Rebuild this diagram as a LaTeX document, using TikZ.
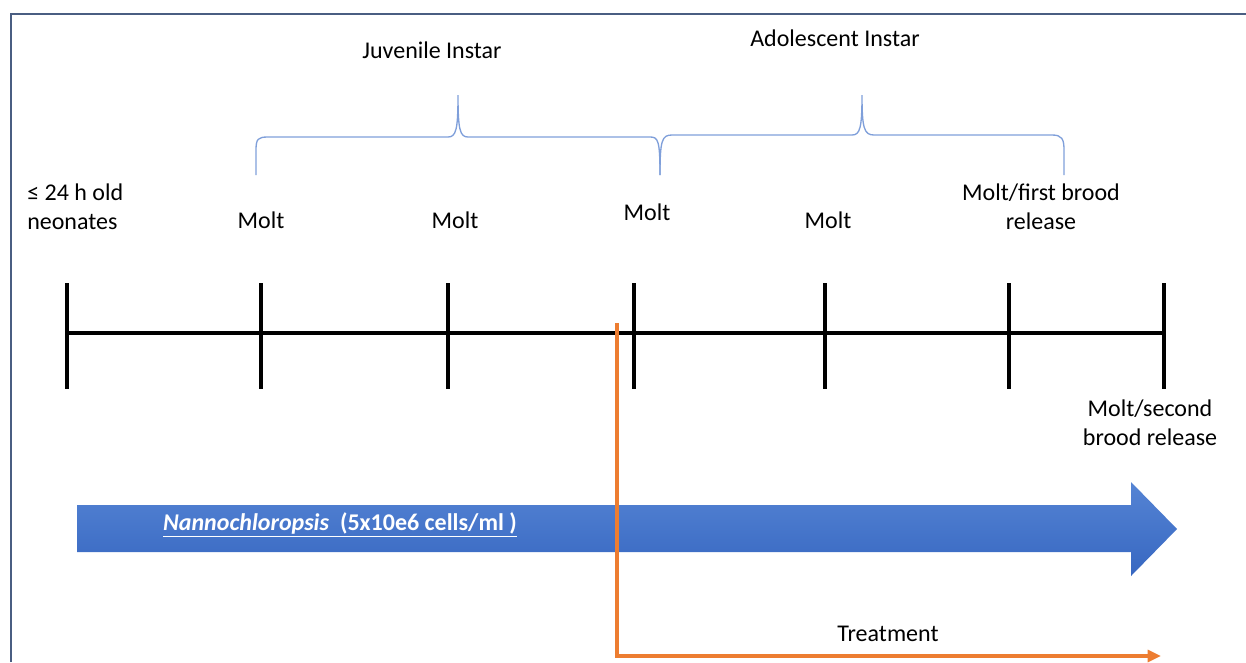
\documentclass[tikz,border=0pt]{standalone}
\usepackage{fontspec}
\setmainfont{Carlito}
\usetikzlibrary{arrows.meta}
\definecolor{tlFrame}{HTML}{4A5E82}
\definecolor{tlBrace}{HTML}{7F9FDA}
\definecolor{tlArrowTop}{HTML}{5584D4}
\definecolor{tlArrowBot}{HTML}{3767C1}
\definecolor{tlOrange}{HTML}{ED7D31}
\tikzset{
  tl frame/.style={draw=tlFrame, line width=1.6pt},
  tl axis/.style={draw=black, line width=3pt},
  tl tick/.style={draw=black, line width=3pt},
  tl brace/.style={draw=tlBrace, line width=1pt},
  tl treat/.style={draw=tlOrange, line width=2.3pt, -{Triangle[length=10pt,width=9pt]}},
  tl label/.style={font=\fontsize{18}{22}\selectfont, text=black, align=center, inner sep=0pt},
  tl feed/.style={font=\fontsize{18}{22}\selectfont\bfseries, text=white, inner sep=0pt},
}

\begin{document}
\begin{tikzpicture}[x=.75pt,y=-.75pt]
  \useasboundingbox (0,0) rectangle (1246,662);
  \draw[tl frame] (11,662) -- (11,14) -- (1246,14);
  % timeline with molt ticks
  \foreach \x [count=\i from 0] in {67,261,448,634,825,1009,1164}{\coordinate (t\i) at (\x,333);\draw[tl tick] (\x,283) -- (\x,389);}
  \draw[tl axis] (t0) -- (t6);
  \node[tl label,anchor=west,align=left] (neo) at (27,207) {≤ 24 h old\\neonates};
  \node[tl label] (m1) at (261,220) {Molt};
  \node[tl label] (m2) at (455,220) {Molt};
  \node[tl label] (m3) at (647,212) {Molt};
  \node[tl label] (m4) at (828,220) {Molt};
  \node[tl label] (mb1) at (1041,207) {Molt/first brood\\release};
  \node[tl label] (mb2) at (1150,423) {Molt/second\\brood release};
  % instar braces
  \draw[tl brace] (256,175) -- (256,150) .. controls (256,139) and (258,137) .. (268,137) -- (448,137) .. controls (456,137) and (458,130) .. (458,95) .. controls (458,130) and (460,137) .. (468,137) -- (650,137) .. controls (658,137) and (660,140) .. (660,175);
  \draw[tl brace] (660,175) .. controls (660,140) and (662,135) .. (672,135) -- (852,135) .. controls (860,135) and (862,128) .. (862,95) .. controls (862,128) and (864,135) .. (874,135) -- (1052,135) .. controls (1062,135) and (1064,139) .. (1064,150) -- (1064,175);
  \node[tl label] (juv) at (432,50) {Juvenile Instar};
  \node[tl label] (ado) at (835,38) {Adolescent Instar};
  % feeding arrow
  \shade[top color=tlArrowTop, bottom color=tlArrowBot] (77,505) -- (1131,505) -- (1131,482) -- (1177,529) -- (1131,576) -- (1131,552) -- (77,552) -- cycle;
  \node[tl feed] (feed) at (340,525) {\underline{\textit{Nannochloropsis}\ \ (5x10e6 cells/ml )}};
  % treatment
  \coordinate (trA) at (617,323);
  \coordinate (trB) at (617,656);
  \coordinate (trC) at (1161,656);
  \draw[tl treat] (trA) -- (trB) -- (trC);
  \node[tl label] (treat) at (888,634) {Treatment};
\end{tikzpicture}
\end{document}
